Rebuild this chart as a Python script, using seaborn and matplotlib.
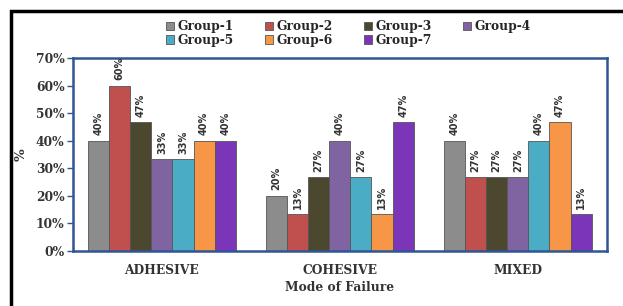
import pandas as pd
import matplotlib.pyplot as plt
import seaborn as sns
from matplotlib.patches import Rectangle

# -------------------------
# Data
# -------------------------
modes = ["ADHESIVE", "COHESIVE", "MIXED"]
groups = ["Group-1", "Group-2", "Group-3", "Group-4", "Group-5", "Group-6", "Group-7"]
adhesive = [40, 60, 46.7, 33.3, 33.3, 40, 40]
cohesive = [20, 13.3, 26.7, 40, 26.7, 13.3, 46.7]
mixed = [40, 26.7, 26.7, 26.7, 40, 46.7, 13.3]
colors = ["#8c8c8c", "#c0504d", "#4c4830", "#8064a2", "#4bacc6", "#f79646", "#7a35b8"]

rows = []
for mode, vals in zip(modes, [adhesive, cohesive, mixed]):
    for g, v in zip(groups, vals):
        rows.append({"mode": mode, "group": g, "pct": v})
df = pd.DataFrame(rows)

sns.set_style("white")
fig = plt.figure(figsize=(6.23, 3.06), dpi=100)
ax = fig.add_axes([0.117, 0.180, 0.857, 0.630])

sns.barplot(data=df, x="mode", y="pct", hue="group", hue_order=groups,
            palette=colors, saturation=1, width=0.83, edgecolor="#555555",
            linewidth=0.6, ax=ax, legend=True)

# value labels
for cont in ax.containers:
    ax.bar_label(cont, labels=[f"{b.get_height():.0f}%" for b in cont],
                 rotation=90, padding=4, fontsize=7, fontweight="bold",
                 color="#333333", family="DejaVu Sans")

ax.set_ylim(0, 70)
ax.set_yticks(range(0, 71, 10))
ax.set_yticklabels([f"{t}%" for t in range(0, 71, 10)])
ax.set_xlim(-0.5, 2.5)
for lab in ax.get_xticklabels() + ax.get_yticklabels():
    lab.set_family("DejaVu Serif")
    lab.set_fontweight("bold")
    lab.set_fontsize(8.8)
    lab.set_color("#333333")
ax.tick_params(axis="y", left=True, length=4, width=1, color="#2f5597", pad=2)
ax.tick_params(axis="x", bottom=False, pad=6)

ax.set_xlabel("Mode of Failure", family="DejaVu Serif", fontweight="bold",
              fontsize=8.8, color="#333333", labelpad=3)
ax.set_ylabel("%", family="DejaVu Serif", fontweight="bold", fontsize=9.5,
              color="#333333", labelpad=6)

for s in ax.spines.values():
    s.set_visible(True)
    s.set_color("#2f5597")
    s.set_linewidth(1.8)

# legend, row-wise order in 4 columns
handles, labels = ax.get_legend_handles_labels()
ax.get_legend().remove()
order = [0, 4, 1, 5, 2, 6, 3]
fig.legend([handles[i] for i in order], [labels[i] for i in order],
           ncol=4, loc="upper left", bbox_to_anchor=(0.248, 0.97),
           frameon=False, handlelength=0.7, handleheight=0.7,
           handletextpad=0.3, columnspacing=2.5, labelspacing=0.05,
           prop={"family": "DejaVu Serif", "weight": "bold", "size": 8.8})

# outer black frame (left and top edges visible)
fig.patches.append(Rectangle((11 / 623, -0.1), 1.2, 1 - 11 / 306 + 0.1,
                             transform=fig.transFigure, fill=False,
                             edgecolor="black", linewidth=2.5))

fig.savefig("out.png", dpi=100)
plt.close(fig)
